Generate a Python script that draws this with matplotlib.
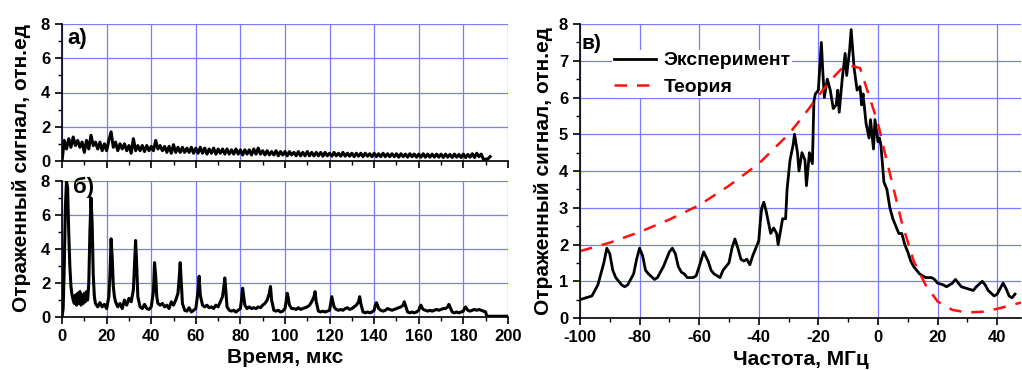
"""
Reflected signal vs time (a, б) and spectrum vs theory (в)
"""

import matplotlib
matplotlib.use("Agg")
import matplotlib.pyplot as plt
from matplotlib.ticker import MultipleLocator

plt.rcParams['font.family'] = ['Liberation Sans', 'DejaVu Sans']
plt.rcParams['font.weight'] = 'bold'
plt.rcParams['axes.unicode_minus'] = False

# --- panel a): signal without structure ---
time_a = list(range(0, 193))
signal_a = [
    0.0, 1.2, 0.7, 1.3, 0.8, 1.4, 0.9, 1.2, 0.8, 1.1,
    0.5, 1.2, 0.7, 1.5, 0.9, 1.1, 0.7, 1.1, 0.6, 1.0,
    0.6, 1.2, 1.7, 0.8, 1.1, 0.6, 1.0, 0.7, 1.0, 0.6,
    0.9, 0.45, 1.3, 0.6, 0.9, 0.6, 0.9, 0.55, 0.9, 0.6,
    0.85, 0.6, 1.2, 0.7, 0.9, 0.6, 0.85, 0.5, 0.85, 0.45,
    0.95, 0.5, 0.8, 0.5, 0.8, 0.5, 0.75, 0.5, 0.8, 0.45,
    0.75, 0.45, 0.8, 0.45, 0.75, 0.4, 0.7, 0.45, 0.75, 0.4,
    0.7, 0.45, 0.7, 0.4, 0.7, 0.4, 0.65, 0.4, 0.7, 0.4,
    0.65, 0.35, 0.65, 0.4, 0.65, 0.35, 0.7, 0.4, 0.75, 0.4,
    0.6, 0.35, 0.6, 0.35, 0.55, 0.35, 0.6, 0.3, 0.55, 0.35,
    0.55, 0.3, 0.55, 0.35, 0.5, 0.3, 0.55, 0.3, 0.5, 0.3,
    0.55, 0.3, 0.5, 0.3, 0.5, 0.3, 0.5, 0.28, 0.5, 0.3,
    0.45, 0.28, 0.5, 0.3, 0.45, 0.28, 0.5, 0.28, 0.45, 0.28,
    0.45, 0.25, 0.45, 0.28, 0.45, 0.25, 0.45, 0.28, 0.42, 0.25,
    0.45, 0.25, 0.42, 0.25, 0.45, 0.25, 0.42, 0.25, 0.42, 0.25,
    0.42, 0.22, 0.42, 0.25, 0.4, 0.22, 0.42, 0.25, 0.4, 0.22,
    0.4, 0.22, 0.42, 0.22, 0.4, 0.22, 0.4, 0.22, 0.4, 0.22,
    0.4, 0.2, 0.4, 0.22, 0.38, 0.2, 0.4, 0.22, 0.38, 0.2,
    0.4, 0.2, 0.38, 0.22, 0.42, 0.2, 0.45, 0.25, 0.4, 0.1,
    0.1, 0.12, 0.25,
]

# --- panel б): signal with periodic echoes ---
time_b = [
    0, 0.5, 1, 1.5, 2, 2.5, 3, 3.5, 4, 4.5, 5,
    5.5, 6, 6.5, 7, 7.5, 8, 8.5, 9, 9.5, 10, 10.5, 11, 11.5,
    12, 12.5, 13, 13.5, 14, 14.5, 15, 16, 17, 18, 19, 20,
    21, 21.5, 22, 22.5, 23, 23.5, 24, 25, 26, 27, 28, 29, 30, 31,
    32, 32.5, 33, 33.5, 34, 35, 36, 37, 38, 39, 40,
    41, 41.5, 42, 42.5, 43, 44, 45, 46, 47, 48, 49, 50, 51,
    52, 52.5, 53, 53.5, 54, 55, 56, 57, 58, 59, 60,
    61, 61.5, 62, 63, 64, 65, 66, 67, 68, 69, 70, 71,
    72, 72.5, 73, 73.5, 74, 75, 76, 77, 78, 79, 80,
    80.5, 81, 81.5, 82, 83, 84, 85, 86, 87, 88, 89, 90, 91,
    92, 93, 93.5, 94, 95, 96, 97, 98, 99, 100,
    100.5, 101, 101.5, 102, 103, 104, 105, 106, 107, 108, 109, 110, 111,
    112, 113, 113.5, 114, 115, 116, 117, 118, 119, 120,
    120.5, 121, 121.5, 122, 123, 124, 125, 126, 127, 128, 129, 130, 131,
    132, 133, 133.5, 134, 135, 136, 137, 138, 139, 140,
    140.5, 141, 141.5, 142, 143, 144, 145, 146, 147, 148, 149, 150, 151,
    152, 153, 153.5, 154, 155, 156, 157, 158, 159, 160,
    160.5, 161, 161.5, 162, 163, 164, 165, 166, 167, 168, 169, 170, 171,
    172, 173, 173.5, 174, 175, 176, 177, 178, 179, 180,
    180.5, 181, 181.5, 182, 183, 184, 185, 186, 187, 188, 189, 190,
    190.5, 195, 200,
]
signal_b = [
    0.0, 0.5, 3.0, 6.5, 8.0, 7.6, 5.0, 3.0, 1.8, 1.3, 1.0,
    0.8, 1.3, 0.7, 1.4, 0.8, 1.5, 0.7, 1.3, 0.8, 1.4, 0.9, 1.5, 1.0,
    2.0, 5.0, 7.0, 5.5, 2.5, 1.2, 0.8, 0.6, 0.85, 0.6, 0.75, 0.5,
    1.2, 2.5, 4.6, 3.5, 1.8, 1.2, 0.9, 0.6, 0.8, 0.5, 1.0, 0.7, 1.1, 0.9,
    1.6, 3.0, 4.5, 3.0, 1.2, 0.6, 0.5, 0.75, 0.5, 0.45, 0.6,
    1.5, 3.2, 2.4, 1.2, 0.8, 0.7, 0.8, 0.6, 0.7, 0.5, 0.9, 0.7, 1.0,
    1.4, 2.2, 3.2, 2.0, 0.8, 0.4, 0.35, 0.55, 0.3, 0.4, 0.5,
    1.5, 2.4, 1.3, 0.7, 0.6, 0.7, 0.55, 0.6, 0.5, 0.7, 0.6, 0.9,
    1.2, 1.7, 2.3, 1.5, 0.6, 0.4, 0.35, 0.4, 0.3, 0.4, 0.5,
    1.0, 1.7, 1.2, 0.7, 0.5, 0.6, 0.5, 0.55, 0.5, 0.6, 0.55, 0.7, 0.8,
    1.0, 1.4, 1.8, 1.0, 0.4, 0.35, 0.4, 0.3, 0.35, 0.5,
    0.9, 1.4, 1.1, 0.7, 0.5, 0.5, 0.45, 0.55, 0.45, 0.5, 0.55, 0.6, 0.7,
    0.9, 1.2, 1.5, 0.9, 0.35, 0.3, 0.35, 0.3, 0.35, 0.4,
    0.8, 1.2, 0.9, 0.6, 0.45, 0.4, 0.45, 0.4, 0.5, 0.55, 0.45, 0.5, 0.6,
    0.7, 0.9, 1.2, 0.8, 0.3, 0.25, 0.3, 0.25, 0.3, 0.4,
    0.7, 0.85, 0.7, 0.5, 0.4, 0.35, 0.4, 0.5, 0.45, 0.4, 0.45, 0.5, 0.55,
    0.6, 0.7, 0.9, 0.7, 0.3, 0.25, 0.3, 0.25, 0.3, 0.4,
    0.6, 0.7, 0.55, 0.45, 0.4, 0.35, 0.4, 0.35, 0.4, 0.45, 0.4, 0.45, 0.5,
    0.5, 0.6, 0.75, 0.6, 0.3, 0.25, 0.3, 0.25, 0.3, 0.35,
    0.5, 0.6, 0.5, 0.4, 0.35, 0.4, 0.45, 0.4, 0.45, 0.4, 0.35, 0.3,
    0.05, 0.05, 0.05,
]

# --- panel в): spectrum, experiment vs theory ---
freq_exp = [
    -100, -98, -96, -94, -92, -91, -90, -89, -88, -86, -85, -84, -82, -81,
    -80, -79, -78, -77, -75, -74, -72, -70, -69, -68, -67, -66, -65, -64,
    -62, -61, -60, -58.5, -57, -56, -55, -53, -52, -50, -49, -48, -47, -46,
    -45, -44, -43, -42, -41, -40, -39.5, -39, -38.3, -37.5, -36, -35, -34,
    -33.5, -32, -31, -30.5, -29.5, -28.5, -28, -27, -26.5, -25.5, -24.5,
    -24, -23, -22, -21.5, -21, -20, -19, -18.5, -18, -17, -16, -15, -14,
    -13.5, -13, -12, -11, -10.5, -9.5, -9, -8, -7, -6, -5.5, -5, -4, -3,
    -2.5, -1.5, -1, 0, 0.5, 1, 2, 3, 4, 5, 6, 7, 8, 9, 10, 11, 12, 13, 14,
    16, 18, 19, 20, 22, 23, 24, 25, 26, 27, 28, 30, 32, 33, 35, 36, 37, 39,
    40, 41, 42, 43, 44, 45, 46,
]
signal_exp = [
    0.5, 0.55, 0.6, 0.9, 1.5, 1.9, 1.75, 1.3, 1.1, 0.9, 0.85, 0.9, 1.2, 1.6,
    1.9, 1.7, 1.3, 1.2, 1.05, 1.1, 1.4, 1.8, 1.9, 1.75, 1.4, 1.25, 1.2, 1.1,
    1.1, 1.15, 1.4, 1.8, 1.55, 1.3, 1.2, 1.1, 1.3, 1.5, 1.9, 2.15, 1.9, 1.6,
    1.55, 1.6, 1.45, 1.7, 1.9, 2.1, 2.6, 3.0, 3.15, 2.9, 2.3, 2.45, 2.3,
    2.0, 2.7, 2.7, 3.5, 4.3, 4.7, 5.0, 4.5, 4.0, 4.5, 4.3,
    3.6, 4.5, 4.2, 5.9, 6.1, 6.2, 7.5, 6.7, 6.0, 6.5, 6.2, 5.7, 5.8,
    6.2, 5.6, 6.5, 7.2, 6.6, 7.3, 7.85, 6.8, 6.2, 6.3, 5.8, 6.1, 5.3, 4.9,
    5.4, 4.6, 5.4, 4.8, 4.9, 4.7, 3.7, 3.5, 3.0, 2.7, 2.5, 2.3, 2.3, 2.0,
    1.8, 1.55, 1.4, 1.3, 1.2,
    1.1, 1.1, 1.05, 0.95, 0.9, 0.85, 0.9, 0.95, 1.05, 0.95, 0.85, 0.8, 0.75,
    0.85, 1.0, 0.9, 0.75, 0.6, 0.65, 0.8, 0.95, 0.8, 0.6, 0.55, 0.65,
]
freq_theory = [-100, -90, -80, -70, -60, -50, -40, -30, -25, -20, -15, -12,
               -9, -6, -4, -2, 0, 2, 5, 8, 12, 16, 20, 25, 30, 35, 40, 48]
signal_theory = [1.82, 2.05, 2.34, 2.68, 3.07, 3.6, 4.2, 5.0, 5.5, 6.05, 6.55,
                 6.8, 6.87, 6.8, 6.3, 5.8, 5.3, 4.6, 3.6, 2.6, 1.55, 0.9,
                 0.45, 0.22, 0.15, 0.17, 0.25, 0.42]

GRID = '#7a7aff'


def style_axes(ax, xmaj, xmin, ymaj, ymin):
    ax.spines['top'].set_visible(False)
    ax.spines['right'].set_visible(False)
    ax.xaxis.set_major_locator(MultipleLocator(xmaj))
    ax.xaxis.set_minor_locator(MultipleLocator(xmin))
    ax.yaxis.set_major_locator(MultipleLocator(ymaj))
    ax.yaxis.set_minor_locator(MultipleLocator(ymin))
    ax.tick_params(which='major', direction='out', length=5, width=1.2,
                   labelsize=12)
    ax.tick_params(which='minor', direction='out', length=3, width=1.0)
    ax.grid(True, which='major', color=GRID, lw=0.9)
    ax.set_axisbelow(True)
    for s in ('left', 'bottom'):
        ax.spines[s].set_linewidth(1.2)


fig = plt.figure(figsize=(10.22, 3.70), dpi=100)

ax_a = fig.add_axes([0.0607, 0.565, 0.4363, 0.370])
ax_b = fig.add_axes([0.0607, 0.143, 0.4363, 0.368])
ax_c = fig.add_axes([0.5675, 0.1405, 0.4315, 0.7945])

for ax in (ax_a, ax_b):
    style_axes(ax, 20, 10, 2, 1)
    ax.set_xlim(0, 200)
    ax.set_ylim(0, 8)

ax_a.plot(time_a, signal_a, color='black', lw=2.2)
ax_a.tick_params(axis='x', labelbottom=False)
ax_a.text(0.012, 0.97, 'а)', transform=ax_a.transAxes, fontsize=16,
          fontweight='bold', va='top')

ax_b.plot(time_b, signal_b, color='black', lw=2.2)
ax_b.text(0.025, 1.03, 'б)', transform=ax_b.transAxes, fontsize=16,
          fontweight='bold', va='top')
ax_b.set_xlabel('Время, мкс', fontsize=15, fontweight='bold', labelpad=3)

style_axes(ax_c, 20, 10, 1, 0.5)
ax_c.set_xlim(-100, 48)
ax_c.set_ylim(0, 8)
ax_c.plot(freq_exp, signal_exp, color='black', lw=2.0, label='Эксперимент')
ax_c.plot(freq_theory, signal_theory, color='#ff1010', lw=1.8,
          dashes=(5, 4), label='Теория')
ax_c.text(0.003, 0.965, 'в)', transform=ax_c.transAxes, fontsize=15,
          fontweight='bold', va='top')
leg = ax_c.legend(loc='upper left', bbox_to_anchor=(0.05, 0.945),
                  frameon=True, framealpha=1, edgecolor='none', fontsize=14,
                  handlelength=2.2, handletextpad=0.35, borderpad=0.1,
                  labelspacing=0.45)
ax_c.set_xlabel('Частота, МГц', fontsize=15, fontweight='bold', labelpad=4)
ax_c.set_ylabel('Отраженный сигнал, отн.ед', fontsize=15, fontweight='bold',
                labelpad=4)

fig.text(0.021, 0.545, 'Отраженный сигнал, отн.ед', rotation=90,
         fontsize=15, fontweight='bold', ha='center', va='center')

# no gridline along the top edge
for ax in (ax_a, ax_b, ax_c):
    fig.canvas.draw()
    ax.yaxis.get_gridlines()[-1].set_visible(False)

fig.savefig('out.png', dpi=100)
